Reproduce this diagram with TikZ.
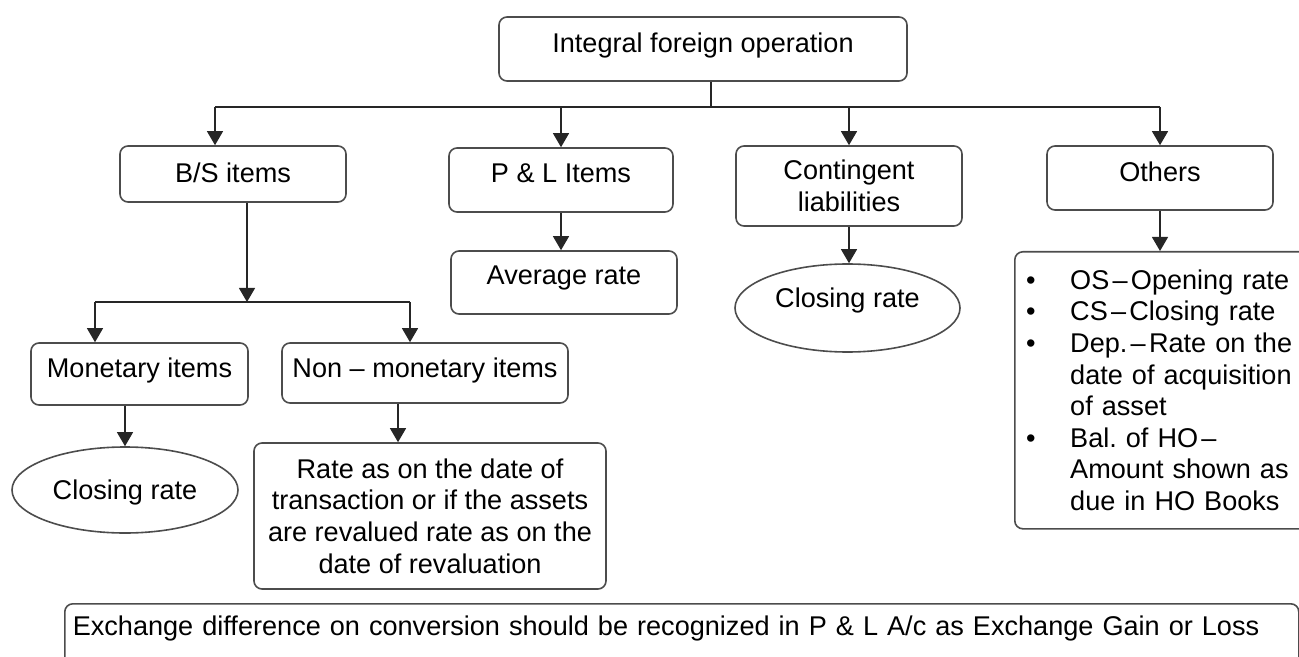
\documentclass[tikz,border=0pt]{standalone}
\usepackage{fontspec}
\setmainfont{Liberation Sans}
\usetikzlibrary{arrows.meta,shapes.geometric}
\newcommand{\itembul}{\makebox[22pt][l]{\textbullet}}
\newcommand{\sdash}{\hspace{0.12em}--\hspace{0.12em}}
\frenchspacing

\begin{document}
\begin{tikzpicture}[x=0.5pt, y=-0.5pt,
	every node/.style={font=\fontsize{13.55}{15.8}\selectfont, inner sep=0pt},
	box/.style={draw=black!70, line width=0.8pt, rounded corners=4pt},
	lift/.style={text height=10pt, text depth=#1},
	oval/.style={draw=black!70, line width=0.8pt, ellipse},
	link/.style={draw=black!85, line width=0.6pt},
	flow/.style={link, -{Triangle[length=7pt, width=8pt]}}]
	\useasboundingbox (0,0) rectangle (1299,657);
	\clip (0,0) rectangle (1299,657);

	\node[box, lift=6.3pt, minimum width=204pt, minimum height=32pt] (top) at (703,49) {Integral foreign operation};
	\node[box, lift=1.3pt, minimum width=113pt, minimum height=28pt] (bs) at (233,174) {B/S items};
	\node[box, lift=7.3pt, minimum width=112pt, minimum height=32pt] (pl) at (561,180) {P \& L Items};
	\node[box, align=center, minimum width=113pt, minimum height=40pt] (cl) at (849,186) {Contingent\\liabilities};
	\node[box, lift=6.3pt, minimum width=113pt, minimum height=32pt] (oth) at (1160,178) {Others};
	\node[box, lift=7.8pt, minimum width=113pt, minimum height=31.5pt] (avg) at (564,282.5) {Average rate};
	\node[oval, lift=10.3pt, minimum width=112.5pt, minimum height=44pt] (closeR) at (847.5,308) {Closing rate};
	\node[box, anchor=north west, inner xsep=5.7pt, text width=160pt, align=left, minimum width=146pt, minimum height=138.5pt] (list) at (1014,251) {%
		\itembul OS\sdash Opening rate\\
		\itembul CS\sdash Closing rate\\
		\itembul Dep.\sdash Rate on the\\
		\hspace*{22pt}date of acquisition\\
		\hspace*{22pt}of asset\\
		\itembul Bal. of HO\sdash\\
		\hspace*{22pt}Amount shown as\\
		\hspace*{22pt}due in HO Books};
	\node[box, lift=6.3pt, minimum width=108.5pt, minimum height=31pt] (mon) at (139.5,374) {Monetary items};
	\node[box, lift=5.3pt, minimum width=143pt, minimum height=30pt] (nonmon) at (425,373) {Non -- monetary items};
	\node[oval, lift=1pt, minimum width=113pt, minimum height=43pt] (closeL) at (125,490) {Closing rate};
	\node[box, align=center, minimum width=176pt, minimum height=73pt] (rate) at (430,516) {Rate as on the date of\\transaction or if the assets\\are revalued rate as on the\\date of revaluation};
	\node[box, anchor=north west, inner xsep=4pt, text width=609pt, align=left, lift=18.3pt, minimum width=617pt, minimum height=40pt] (note) at (64,603) {Exchange difference on conversion should be recognized in P \& L A/c as Exchange Gain or Loss};

	\coordinate (trunk) at (711,107);
	\coordinate (dBS) at (215,107);
	\coordinate (mbus) at (247,302);
	\coordinate (dMon) at (95,302);
	\coordinate (dNon) at (410,302);

	\draw[link] (top.south -| trunk) -- (trunk);
	\draw[link] (dBS) -- (dBS -| oth);
	\draw[flow] (dBS) -- (dBS |- bs.north);
	\draw[flow] (dBS -| pl) -- (pl);
	\draw[flow] (dBS -| cl) -- (cl);
	\draw[flow] (dBS -| oth) -- (oth);
	\draw[flow] (bs.south -| mbus) -- (mbus);
	\draw[link] (dMon) -- (dNon);
	\draw[flow] (dMon) -- (dMon |- mon.north);
	\draw[flow] (dNon) -- (dNon |- nonmon.north);
	\draw[flow] (mon.south -| closeL) -- (closeL);
	\draw[flow] ([xshift=-13.5pt]nonmon.south) -- ([xshift=-13.5pt]nonmon.south |- rate.north);
	\draw[flow] (pl.south) -- (pl.south |- avg.north);
	\draw[flow] (cl.south) -- (cl.south |- closeR.north);
	\draw[flow] (oth.south) -- (oth.south |- list.north);
\end{tikzpicture}
\end{document}
